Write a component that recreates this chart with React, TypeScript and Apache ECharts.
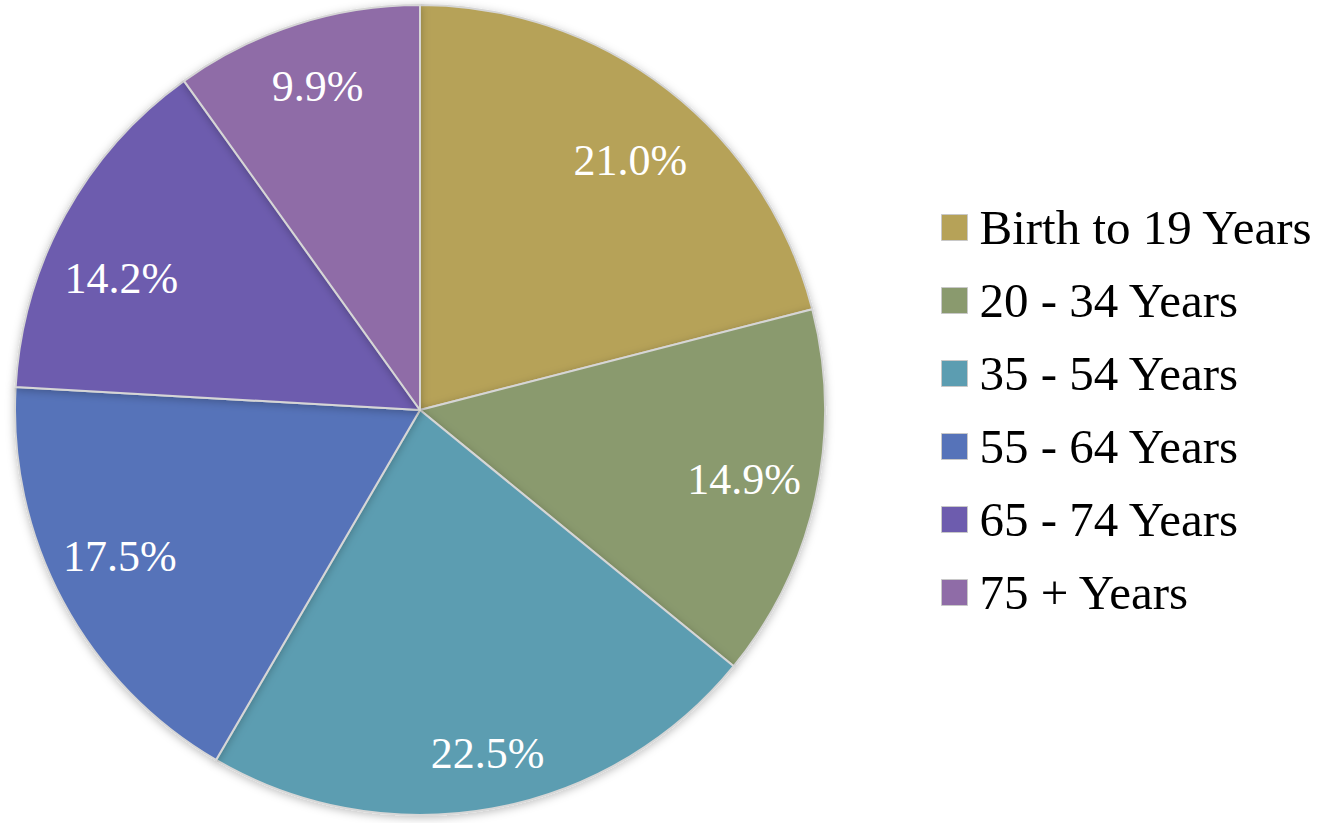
import React, { useEffect, useRef } from "react";
import * as echarts from "echarts";

const categories = [
  "Birth to 19 Years",
  "20 - 34 Years",
  "35 - 54 Years",
  "55 - 64 Years",
  "65 - 74 Years",
  "75 + Years",
];
const values = [21.0, 14.9, 22.5, 17.5, 14.2, 9.9];
const colors = ["#B6A258", "#8A9A6E", "#5C9DB1", "#5673B9", "#6D5CAE", "#8F6CA7"];

const FONT = "Liberation Serif";

// label nudges to mimic the original's best-fit placement (styling only)
const labelNudge: number[][] = [
  [5, 15],
  [-3, -3],
  [8, 14],
  [-5, -12],
  [-5, 30],
  [0, -5],
];

export default function App() {
  const ref = useRef<HTMLDivElement>(null);
  useEffect(() => {
    if (!ref.current) return;
    const chart = echarts.init(ref.current, undefined, { renderer: "svg" });
    const data = categories.map((name, i) => ({
      name,
      value: values[i],
      itemStyle: { color: colors[i] },
    }));
    chart.setOption({
      animation: false,
      backgroundColor: "#ffffff",
      textStyle: { fontFamily: FONT },
      legend: {
        orient: "vertical",
        left: 936,
        top: 198,
        itemWidth: 26,
        itemHeight: 26,
        itemGap: 24,
        icon: "rect",
        selectedMode: false,
        textStyle: { fontFamily: FONT, fontSize: 49, color: "#000000", padding: [0, 0, 0, 7] },
        data: categories.map((name, i) => ({
          name,
          itemStyle: { color: colors[i], borderColor: "#c8c8c8", borderWidth: 1 },
        })),
      },
      series: [
        {
          type: "pie",
          center: [420, 410],
          radius: [0, 405],
          startAngle: 90,
          clockwise: true,
          silent: true,
          label: { show: false },
          labelLine: { show: false },
          itemStyle: {
            borderColor: "#d6d6d6",
            borderWidth: 2,
            shadowBlur: 8,
            shadowColor: "rgba(0,0,0,0.25)",
            shadowOffsetY: 2,
          },
          data,
        },
        {
          type: "pie",
          center: [420, 410],
          radius: [0, 664],
          startAngle: 90,
          clockwise: true,
          silent: true,
          itemStyle: { color: "rgba(0,0,0,0)" },
          label: {
            show: true,
            position: "inside",
            formatter: (p: any) => p.value.toFixed(1) + "%",
            color: "#ffffff",
            fontFamily: FONT,
            fontSize: 44,
          },
          labelLine: { show: false },
          data: categories.map((name, i) => ({
            name,
            value: values[i],
            label: { offset: labelNudge[i], fontFamily: FONT },
          })),
        },
      ],
    });
    return () => chart.dispose();
  }, []);
  return (
    <div
      ref={ref}
      style={{ position: "fixed", left: 0, top: 0, width: 1338, height: 823 }}
    />
  );
}
